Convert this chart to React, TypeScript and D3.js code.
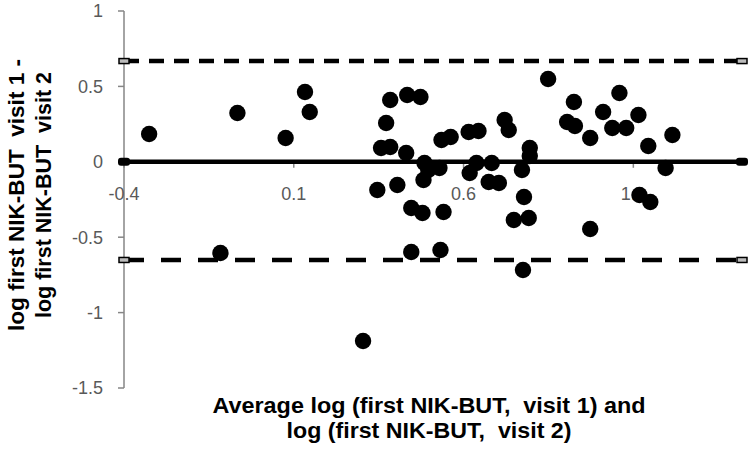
import React from "react";
import * as d3 from "d3";

// Mean of the two log NIK-BUT measurements (x) and their difference (y)
const meanLog = [
  -0.326, -0.066, -0.116, 0.076, 0.133, 0.147, 0.304, 0.346, 0.405, 0.357,
  0.384, 0.372, 0.384, 0.434, 0.473, 0.431, 0.446, 0.479, 0.541, 0.446,
  0.532, 0.485, 0.496, 0.529, 0.482, 0.535, 0.562, 0.615, 0.644, 0.618,
  0.638, 0.683, 0.674, 0.704, 0.721, 0.733, 0.795, 0.795, 0.772, 0.778,
  0.748, 0.792, 0.775, 0.849, 0.925, 0.905, 0.928, 0.973, 0.973, 1.011,
  1.059, 1.038, 1.079, 1.115, 1.144, 1.215, 1.195, 1.118, 1.150,
];
const diffLog = [
  0.184, 0.324, -0.605, 0.158, 0.463, 0.330, -1.188, -0.187, -0.154, 0.092,
  0.098, 0.257, 0.410, 0.443, 0.430, 0.058, -0.306, -0.340, -0.333, -0.598,
  -0.585, -0.008, -0.054, -0.041, -0.121, 0.145, 0.164, 0.198, 0.204, -0.074,
  -0.008, -0.008, -0.134, -0.141, 0.277, 0.211, 0.092, 0.038, -0.054, -0.233,
  -0.386, -0.373, -0.718, 0.549, 0.397, 0.264, 0.237, 0.158, -0.446, 0.330,
  0.456, 0.224, 0.224, 0.310, 0.105, 0.178, -0.041, -0.220, -0.267,
];

const xTicks = [-0.4, 0.1, 0.6, 1.1];
const yTicks = [-1.5, -1, -0.5, 0, 0.5, 1];
const xDomain = [-0.4, 1.42];
const yDomain = [-1.5, 1];
const biasValue = 0;
const upperLimit = 0.668;
const lowerLimit = -0.651;
const lineExtent = [-0.4, 1.42];

const yTitleLines = ["log first NIK-BUT  visit 1 -", "log first NIK-BUT  visit 2"];
const xTitleLines = ["Average log (first NIK-BUT,  visit 1) and", "log (first NIK-BUT,  visit 2)"];

export default function App() {
  const W = 750;
  const H = 452;
  const x = d3.scaleLinear().domain(xDomain).range([124, 742]);
  const y = d3.scaleLinear().domain(yDomain).range([388, 11]);
  const axisColor = "#868686";
  const tickTextColor = "#595959";
  const font = "'Liberation Sans', Arial, sans-serif";
  const x0 = x(xDomain[0]);
  const yZero = y(0);
  const xTitleLengths = [433, 285];
  const yTitleLengths = [272, 246];

  const refLines = [
    { v: upperLimit, dash: "15 10", w: 4.5 },
    { v: lowerLimit, dash: "20 17", w: 4.5 },
  ];

  return (
    <svg
      width={W}
      height={H}
      style={{ position: "absolute", left: 0, top: 0, background: "#fff" }}
    >
      {/* y axis */}
      <line x1={x0} x2={x0} y1={y(yDomain[1])} y2={y(yDomain[0])} stroke={axisColor} strokeWidth={1.5} />
      {yTicks.map((t) => (
        <g key={"yt" + t}>
          <line x1={x0 - 6} x2={x0} y1={y(t)} y2={y(t)} stroke={axisColor} strokeWidth={1.5} />
          <text
            x={x0 - 21}
            y={y(t)}
            dy="0.35em"
            textAnchor="end"
            fontFamily={font}
            fontSize={18}
            fill={tickTextColor}
          >
            {t}
          </text>
        </g>
      ))}
      {/* x axis (crosses at y = 0) */}
      <line x1={x0} x2={x(xDomain[1])} y1={yZero} y2={yZero} stroke={axisColor} strokeWidth={1.5} />
      {xTicks.map((t) => (
        <g key={"xt" + t}>
          <line x1={x(t)} x2={x(t)} y1={yZero} y2={yZero + 6} stroke={axisColor} strokeWidth={1.5} />
          <text
            x={x(t)}
            y={yZero + 38}
            textAnchor="middle"
            fontFamily={font}
            fontSize={18}
            fill={tickTextColor}
          >
            {t}
          </text>
        </g>
      ))}

      {/* limits of agreement */}
      {refLines.map((r, i) => (
        <g key={"ref" + i}>
          <line
            x1={x(lineExtent[0])}
            x2={x(lineExtent[1])}
            y1={y(r.v)}
            y2={y(r.v)}
            stroke="#000"
            strokeWidth={r.w}
            strokeDasharray={r.dash}
          />
          {lineExtent.map((e, j) => (
            <rect
              key={j}
              x={x(e) - 5}
              y={y(r.v) - 2.5}
              width={10}
              height={5}
              fill="#bbb"
              stroke="#000"
              strokeWidth={1.5}
            />
          ))}
        </g>
      ))}

      {/* bias line */}
      <line
        x1={x(lineExtent[0])}
        x2={x(lineExtent[1])}
        y1={y(biasValue)}
        y2={y(biasValue)}
        stroke="#000"
        strokeWidth={4.5}
      />
      {lineExtent.map((e, j) => (
        <rect
          key={"bm" + j}
          x={x(e) - 6}
          y={y(biasValue) - 4}
          width={12}
          height={8}
          rx={3}
          fill="#000"
        />
      ))}

      {/* data points */}
      {meanLog.map((m, i) => (
        <circle key={"p" + i} cx={x(m)} cy={y(diffLog[i])} r={8.2} fill="#000" />
      ))}

      {/* y title */}
      <g transform={`translate(0, ${195}) rotate(-90)`}>
        {yTitleLines.map((s, i) => (
          <text
            key={"ytl" + i}
            x={0}
            y={24 + i * 27}
            textAnchor="middle"
            fontFamily={font}
            fontWeight="bold"
            fontSize={22}
            fill="#000"
            textLength={yTitleLengths[i]}
            lengthAdjust="spacingAndGlyphs"
            style={{ whiteSpace: "pre" }}
          >
            {s}
          </text>
        ))}
      </g>

      {/* x title */}
      {xTitleLines.map((s, i) => (
        <text
          key={"xtl" + i}
          x={429}
          y={413 + i * 25}
          textAnchor="middle"
          fontFamily={font}
          fontWeight="bold"
          fontSize={22}
          fill="#000"
          textLength={xTitleLengths[i]}
          lengthAdjust="spacingAndGlyphs"
          style={{ whiteSpace: "pre" }}
        >
          {s}
        </text>
      ))}
    </svg>
  );
}
